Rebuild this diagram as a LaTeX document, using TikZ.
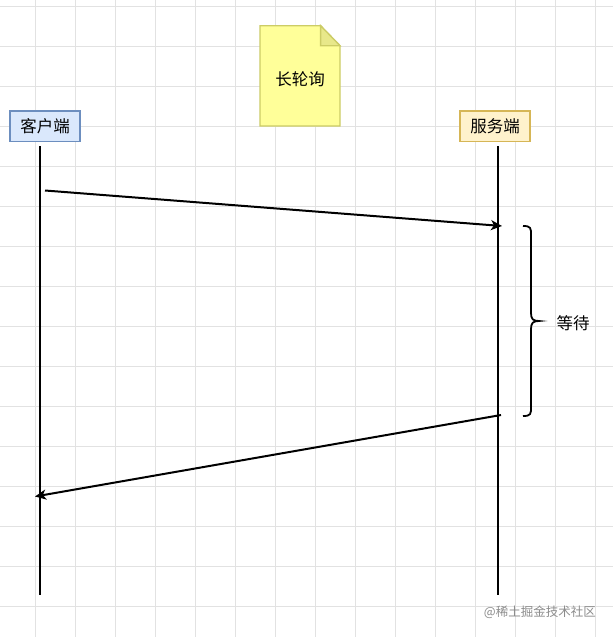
\documentclass[tikz,border=0pt]{standalone}
\usepackage{fontspec}
\setmainfont{Noto Sans CJK SC}
\usetikzlibrary{arrows.meta}
\definecolor{gridc}{HTML}{E2E2E2}
\definecolor{clientfill}{HTML}{DAE8FC}
\definecolor{clientdraw}{HTML}{6C8EBF}
\definecolor{serverfill}{HTML}{FFF2CC}
\definecolor{serverdraw}{HTML}{D6B656}
\definecolor{notefill}{HTML}{FFFF99}
\definecolor{notedraw}{HTML}{CCCC66}
\definecolor{notefold}{HTML}{E8E88A}
\tikzset{
  actor/.style={draw, line width=1.5pt, minimum width=70pt, minimum height=30.5pt, inner sep=0pt, font=\fontsize{16.5}{18}\selectfont},
  lifeline/.style={line width=2pt, black},
  msg/.style={line width=2pt, black, -{Stealth[length=11pt,width=10pt,inset=3pt]}},
  bracestyle/.style={line width=1.8pt, black},
  lbl/.style={font=\fontsize{16.5}{18}\selectfont, inner sep=0pt}
}
\begin{document}
\begin{tikzpicture}[x=1pt,y=-1pt]
\fill[white] (0,0) rectangle (613,637);
\useasboundingbox (0,0) rectangle (613,637);
% grid
\foreach \x in {35.7,75.7,...,600} \draw[gridc, line width=0.8pt] (\x,0) -- (\x,637);
\foreach \y in {6.2,46.2,...,637} \draw[gridc, line width=0.8pt] (0,\y) -- (613,\y);
% note
\filldraw[fill=notefill, draw=notedraw, line width=1.3pt]
  (260,25.7) -- (320.6,25.7) -- (340,45.7) -- (340,126) -- (260,126) -- cycle;
\filldraw[fill=notefold, draw=notedraw, line width=1.3pt]
  (320.6,25.7) -- (320.6,45.7) -- (340,45.7) -- cycle;
\node[lbl] (note) at (300,79) {长轮询};
% actors
\node[actor, fill=clientfill, draw=clientdraw] (client) at (45,126) {客户端};
\node[actor, fill=serverfill, draw=serverdraw] (server) at (495,126) {服务端};
% lifelines
\coordinate (ctop) at (40,146);
\coordinate (cbot) at (40,595);
\coordinate (stop) at (498,146);
\coordinate (sbot) at (498,595);
\draw[lifeline] (ctop) -- (cbot);
\draw[lifeline] (stop) -- (sbot);
% messages
\coordinate (m1s) at (45,190.5);
\coordinate (m1e) at (502,226);
\coordinate (m2s) at (501,415);
\coordinate (m2e) at (35,496.5);
\draw[msg] (m1s) -- (m1e);
\draw[msg] (m2s) -- (m2e);
% brace
\draw[bracestyle] (523,226) .. controls (531,226) and (531,228) .. (531,235) -- (531,313)
  .. controls (531,319) and (533,321) .. (539,321)
  .. controls (533,321) and (531,323) .. (531,329) -- (531,407)
  .. controls (531,414) and (531,416) .. (523,416);
\node[lbl] (wait) at (573,323) {等待};
% watermark
\node[font=\fontsize{12.5}{14}\selectfont, text=black!45, inner sep=0pt, anchor=east] (wm) at (596,612) {@稀土掘金技术社区};
\end{tikzpicture}
\end{document}
